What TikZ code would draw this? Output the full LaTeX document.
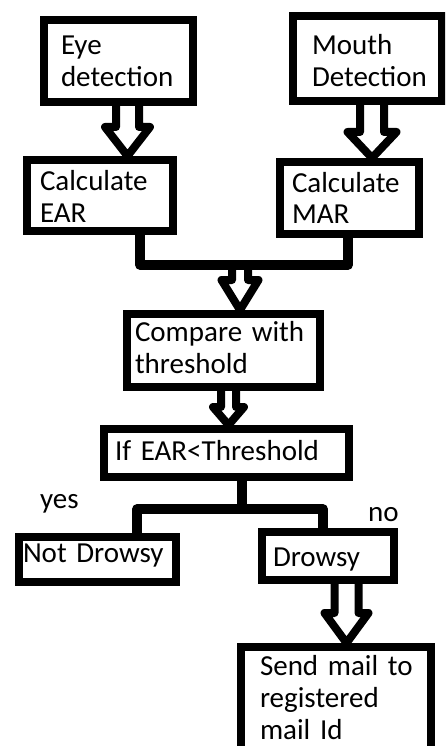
\documentclass[tikz,border=0pt]{standalone}
\usepackage{fontspec}
\setmainfont{Carlito}
\usetikzlibrary{calc}
\tikzset{
 box/.style={draw=black, line width=8pt, inner xsep=0pt, inner ysep=0pt, align=left, font=\fontsize{29}{32}\selectfont, fill=white, text height=22pt},
 conn/.style={draw=black, line width=9.5pt, line cap=round, line join=round},
 barrow/.style={draw=black, line width=8pt, line join=round},
 lbl/.style={font=\fontsize{29}{32}\selectfont, inner sep=0pt, anchor=base west}
}
% from, to, shaft half width, head half width, head length
\newcommand\blockarr[5]{%
 \draw[barrow] let \p1=(#1), \p2=(#2) in
 (\x1-#3pt,\y1) -- (\x1-#3pt,\y2+#5pt) -- (\x1-#4pt,\y2+#5pt) -- (\x1,\y2)
 -- (\x1+#4pt,\y2+#5pt) -- (\x1+#3pt,\y2+#5pt) -- (\x1+#3pt,\y1);}
\begin{document}
\begin{tikzpicture}[x=1pt,y=-1pt]
\useasboundingbox (0,0) rectangle (445,746);
\clip (0,0) rectangle (445,746);
\node[box, minimum width=149pt, minimum height=82pt, text width=115pt, text depth=34pt] (eye) at (118.5,61) {\mbox{Eye}\\\mbox{detection}};
\node[box, minimum width=149pt, minimum height=85pt, text width=111pt, text depth=29pt] (mouth) at (367.5,58.5) {\mbox{Mouth}\\\mbox{Detection}};
\node[box, minimum width=146pt, minimum height=71pt, text width=120pt, text depth=33pt] (ear) at (100,195.5) {\mbox{Calculate}\\\mbox{EAR}};
\node[box, minimum width=139pt, minimum height=72pt, text width=115pt, text depth=34pt] (mar) at (349.5,198) {\mbox{Calculate}\\\mbox{MAR}};
\node[box, minimum width=193pt, minimum height=73pt, text width=177pt, text depth=40pt] (cmp) at (223.5,350.5) {\mbox{Compare with}\\\mbox{threshold}};
\node[box, minimum width=245pt, minimum height=48pt, text width=223pt, text depth=8pt] (ifb) at (226.5,453) {\mbox{If EAR<Threshold}};
\node[box, minimum width=157pt, minimum height=45pt, text width=149pt, text depth=17pt] (notd) at (97.5,559.5) {\mbox{Not Drowsy}};
\node[box, minimum width=132pt, minimum height=48pt, text width=110pt, text depth=2pt] (drowsy) at (328,556) {\mbox{Drowsy}};
\node[box, minimum width=190pt, minimum height=105pt, text width=152pt, text depth=71pt] (send) at (336,699.5) {\mbox{Send mail to}\\\mbox{registered}\\\mbox{mail Id}};
\blockarr{[xshift=9pt]eye.south}{ear.north}{11.5}{22.5}{29}
\blockarr{[xshift=4.5pt]mouth.south}{mar.north}{12}{24.5}{26}
\draw[conn] ([xshift=40pt]ear.south) -- ++(0,30) coordinate (jl) -| ([xshift=-1.5pt]mar.south);
\blockarr{$(cmp.north |- jl)+(16.5,0)$}{cmp.north}{8}{18.5}{30}
\blockarr{[xshift=5pt]cmp.south}{ifb.north}{7.5}{15.5}{18}
\draw[conn] ([xshift=15.5pt]ifb.south) -- ++(0,28) coordinate (split);
\draw[conn] ([xshift=39.5pt]notd.north) |- (split) -| ([xshift=-5pt]drowsy.north);
\blockarr{[xshift=18.5pt]drowsy.south}{send.north}{12}{22}{30}
\node[lbl] (yes) at (40,508) {yes};
\node[lbl] (no) at (368,521) {no};
\end{tikzpicture}
\end{document}
